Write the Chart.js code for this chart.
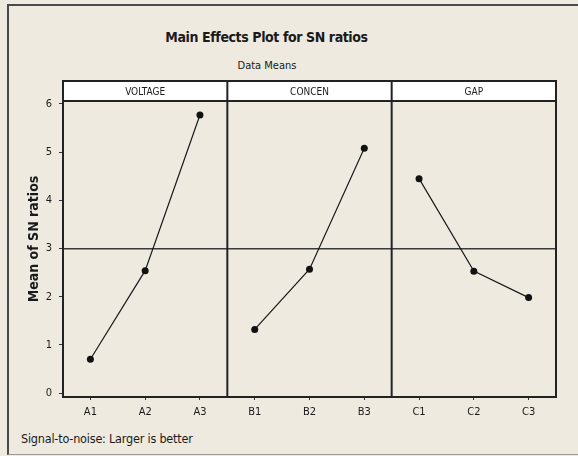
<!DOCTYPE html>
<html>
<head>
<meta charset="utf-8">
<script src="https://cdn.jsdelivr.net/npm/chart.js@4.4.1/dist/chart.umd.min.js"></script>
<style>
  html, body { margin: 0; padding: 0; background: #eeeae0; }
  #wrap { position: relative; width: 578px; height: 456px; overflow: hidden; }
  #frame { position: absolute; left: 7px; top: 4px; width: 580px; height: 448px;
           border-left: 2px solid #4a4a4a; border-top: 2px solid #4a4a4a; border-bottom: 1px solid #9a9a9a; }
  canvas { position: absolute; left: 0; top: 0; }
  .txt { position: absolute; color: #1a1a1a; white-space: nowrap;
         font-family: "Liberation Sans Narrow", "DejaVu Sans Condensed", "Liberation Sans", sans-serif; }
  #title { left: 0; width: 533px; top: 29px; text-align: center; font-size: 14px; font-weight: bold; letter-spacing: -0.4px; }
  #subtitle { left: 0; width: 534px; top: 59px; text-align: center; font-size: 11px; }
  #footer { left: 21px; top: 431px; font-size: 12.5px; letter-spacing: -0.2px; }
</style>
</head>
<body>
<div id="wrap">
  <div id="frame"></div>
  <div class="txt" id="title">Main Effects Plot for SN ratios</div>
  <div class="txt" id="subtitle">Data Means</div>
  <div class="txt" id="footer">Signal-to-noise: Larger is better</div>
  <canvas id="c" width="578" height="456"></canvas>
</div>
<script>
// Factor names and their levels
const factors = ['VOLTAGE', 'CONCEN', 'GAP'];
const voltageLevels = ['A1', 'A2', 'A3'];
const concenLevels = ['B1', 'B2', 'B3'];
const gapLevels = ['C1', 'C2', 'C3'];

// Mean of SN ratios at each level
const voltageMeans = [0.70, 2.54, 5.77];
const concenMeans = [1.32, 2.57, 5.08];
const gapMeans = [4.45, 2.53, 1.98];

// Y axis ticks
const yTicks = [0, 1, 2, 3, 4, 5, 6];

const allLevels = [...voltageLevels, ...concenLevels, ...gapLevels];
const allMeans = [...voltageMeans, ...concenMeans, ...gapMeans];
const grandMean = allMeans.reduce((a, b) => a + b, 0) / allMeans.length;

const FONT = '"Liberation Sans Narrow", "DejaVu Sans Condensed", "Liberation Sans", sans-serif';
const HEADER_H = 20;

function series(levels, means) {
  return {
    data: levels.map((l, i) => ({ x: l, y: means[i] })),
    borderColor: '#1a1a1a',
    backgroundColor: '#111',
    borderWidth: 1.2,
    pointRadius: 3.5,
    pointHoverRadius: 3.5,
    pointBorderWidth: 0,
    tension: 0,
    fill: false
  };
}

// Frame, grand-mean reference line, panel dividers and factor header strip
const panels = {
  id: 'panels',
  beforeDatasetsDraw(chart) {
    const { ctx, chartArea: a, scales: { y } } = chart;
    ctx.save();
    ctx.strokeStyle = '#3a3a3a';
    ctx.lineWidth = 1.5;
    const ym = y.getPixelForValue(grandMean);
    ctx.beginPath();
    ctx.moveTo(a.left, ym);
    ctx.lineTo(a.right, ym);
    ctx.stroke();
    ctx.restore();
  },
  afterDatasetsDraw(chart) {
    const { ctx, chartArea: a, scales: { x } } = chart;
    ctx.save();
    // header strip
    ctx.fillStyle = '#ffffff';
    ctx.fillRect(a.left, a.top, a.right - a.left, HEADER_H);
    ctx.strokeStyle = '#222';
    ctx.lineWidth = 2;
    ctx.beginPath();
    ctx.moveTo(a.left, a.top + HEADER_H);
    ctx.lineTo(a.right, a.top + HEADER_H);
    ctx.stroke();
    // outer box
    ctx.strokeRect(a.left, a.top, a.right - a.left, a.bottom - a.top);
    // dividers between factors
    const n = voltageLevels.length;
    const edges = [a.left];
    for (let k = 1; k < factors.length; k++) {
      const xp = (x.getPixelForTick(k * n - 1) + x.getPixelForTick(k * n)) / 2;
      edges.push(xp);
      ctx.beginPath();
      ctx.moveTo(xp, a.top);
      ctx.lineTo(xp, a.bottom);
      ctx.stroke();
    }
    edges.push(a.right);
    ctx.fillStyle = '#1a1a1a';
    ctx.font = '10px ' + FONT;
    ctx.textAlign = 'center';
    ctx.textBaseline = 'middle';
    factors.forEach((f, i) => {
      ctx.fillText(f, (edges[i] + edges[i + 1]) / 2, a.top + HEADER_H / 2 + 1);
    });
    ctx.restore();
  }
};

new Chart(document.getElementById('c'), {
  type: 'line',
  data: {
    labels: allLevels,
    datasets: [
      series(voltageLevels, voltageMeans),
      series(concenLevels, concenMeans),
      series(gapLevels, gapMeans)
    ]
  },
  options: {
    responsive: false,
    animation: false,
    events: [],
    layout: { padding: { left: 0, top: 81, right: 22, bottom: 0 } },
    plugins: {
      legend: { display: false },
      title: { display: false },
      tooltip: { enabled: false }
    },
    scales: {
      x: {
        type: 'category',
        offset: true,
        afterFit(s) { s.height = 59; },
        grid: { drawOnChartArea: false, drawTicks: true, tickLength: 3, color: '#333', offset: false },
        border: { display: true, color: '#222', width: 2 },
        ticks: { color: '#1a1a1a', padding: 6, font: { family: FONT, size: 11 }, maxRotation: 0, autoSkip: false }
      },
      y: {
        min: -0.083,
        max: 6.477,
        afterFit(s) { s.width = 63; },
        afterBuildTicks(s) { s.ticks = yTicks.map(v => ({ value: v })); },
        grid: { drawOnChartArea: false, drawTicks: true, tickLength: 4, color: '#333' },
        border: { display: true, color: '#222', width: 2 },
        ticks: { color: '#1a1a1a', padding: 7, font: { family: FONT, size: 11 } },
        title: {
          display: true,
          text: 'Mean of SN ratios',
          color: '#1a1a1a',
          font: { family: FONT, size: 14, weight: 'bold' },
          padding: { top: 26, bottom: 0 }
        }
      }
    }
  },
  plugins: [panels]
});
</script>
</body>
</html>
